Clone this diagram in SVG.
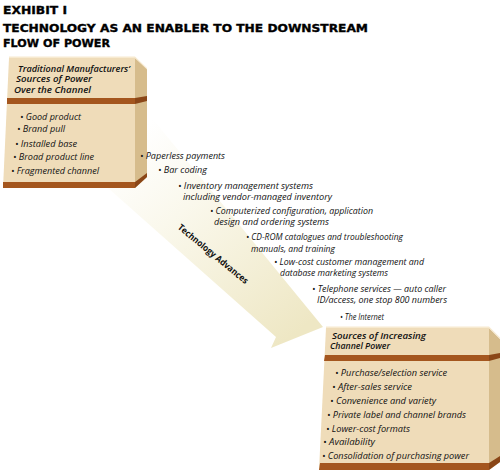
<svg xmlns="http://www.w3.org/2000/svg" width="500" height="476" viewBox="0 0 500 476">
<style>
.title{font-family:"DejaVu Sans","Liberation Sans",sans-serif;font-weight:bold;font-size:11px;fill:#000;stroke:#000;stroke-width:0.35}
.hd{font-family:"Open Sans","Noto Sans",sans-serif;font-style:italic;font-weight:600;font-size:9.6px;fill:#111}
.it{font-family:"Open Sans","Noto Sans",sans-serif;font-style:italic;font-size:9.3px;fill:#111}
.arr{font-family:"Open Sans","Noto Sans",sans-serif;font-weight:bold;font-size:9px;fill:#111}
.front{fill:#efdcb9}
.side{fill:#d6bc8c}
.band{fill:#a4561e}
.bandside{fill:#8a4617}
.hl{fill:#f7ead0}
</style>
<defs>
<linearGradient id="ag" gradientUnits="userSpaceOnUse" x1="140" y1="130" x2="300" y2="330">
<stop offset="0" stop-color="#ffffff"/>
<stop offset="0.35" stop-color="#faf8ec"/>
<stop offset="1" stop-color="#eee7c4"/>
</linearGradient>
</defs>
<rect width="500" height="476" fill="#fff"/>
<g id="title">
<text class="title" x="3" y="13.7" textLength="64" lengthAdjust="spacingAndGlyphs">EXHIBIT I</text>
<text class="title" x="3" y="32.3" textLength="365" lengthAdjust="spacingAndGlyphs">TECHNOLOGY AS AN ENABLER TO THE DOWNSTREAM</text>
<text class="title" x="3" y="47.3" textLength="107" lengthAdjust="spacingAndGlyphs">FLOW OF POWER</text>
</g>
<g id="connectors">
<polygon points="147,112 323,327 271,348 276,337 108,188" fill="url(#ag)"/>
<text class="arr" transform="translate(213,254) rotate(39.5)" y="3" text-anchor="middle" textLength="88" lengthAdjust="spacingAndGlyphs">Technology Advances</text>
</g>
<g id="node-traditional">
<polygon class="front" points="9,58 135,58 135,188 3,188"/>
<polygon class="side" points="135,58 147,69 147,177 135,188"/>
<polygon class="hl" points="9,56.5 135,56.5 147,68 147,69.5 135,58 9,58"/>
<polygon class="band" points="7,98 135,98 135,104 7,104"/>
<polygon class="bandside" points="135,98 147,96 147,101 135,104"/>
<polygon class="band" points="3,182 135,182 135,188 3,188"/>
<polygon class="bandside" points="135,182 147,173 147,177 135,188"/>
<text class="hd" x="18" y="71.5" textLength="112" lengthAdjust="spacingAndGlyphs">Traditional Manufacturers’</text>
<text class="hd" x="16" y="82" textLength="76" lengthAdjust="spacingAndGlyphs">Sources of Power</text>
<text class="hd" x="14" y="92.5" textLength="77" lengthAdjust="spacingAndGlyphs">Over the Channel</text>
<text class="it" x="20" y="120" textLength="61" lengthAdjust="spacingAndGlyphs">• Good product</text>
<text class="it" x="17" y="132.3" textLength="48" lengthAdjust="spacingAndGlyphs">• Brand pull</text>
<text class="it" x="15" y="146.7" textLength="62" lengthAdjust="spacingAndGlyphs">• Installed base</text>
<text class="it" x="13" y="160.3" textLength="81" lengthAdjust="spacingAndGlyphs">• Broad product line</text>
<text class="it" x="11" y="174.3" textLength="88" lengthAdjust="spacingAndGlyphs">• Fragmented channel</text>
</g>
<g id="node-technologies">
<text class="it" x="140" y="158.5" textLength="85" lengthAdjust="spacingAndGlyphs">• Paperless payments</text>
<text class="it" x="158" y="173" textLength="49" lengthAdjust="spacingAndGlyphs">• Bar coding</text>
<text class="it" x="178" y="188.5" textLength="135" lengthAdjust="spacingAndGlyphs">• Inventory management systems</text>
<text class="it" x="183" y="199.5" textLength="149" lengthAdjust="spacingAndGlyphs">including vendor-managed inventory</text>
<text class="it" x="210" y="214" textLength="163" lengthAdjust="spacingAndGlyphs">• Computerized configuration, application</text>
<text class="it" x="214" y="225" textLength="115" lengthAdjust="spacingAndGlyphs">design and ordering systems</text>
<text class="it" x="246" y="240" textLength="157" lengthAdjust="spacingAndGlyphs">• CD-ROM catalogues and troubleshooting</text>
<text class="it" x="251" y="251.5" textLength="84" lengthAdjust="spacingAndGlyphs">manuals, and training</text>
<text class="it" x="274" y="265" textLength="150" lengthAdjust="spacingAndGlyphs">• Low-cost customer management and</text>
<text class="it" x="280" y="276" textLength="108" lengthAdjust="spacingAndGlyphs">database marketing systems</text>
<text class="it" x="312" y="291.5" textLength="134" lengthAdjust="spacingAndGlyphs">• Telephone services — auto caller</text>
<text class="it" x="317" y="302.5" textLength="130" lengthAdjust="spacingAndGlyphs">ID/access, one stop 800 numbers</text>
<text class="it" x="340" y="320" textLength="44" lengthAdjust="spacingAndGlyphs">• The Internet</text>
</g>
<g id="node-channel">
<polygon class="front" points="326,328 489,328 489,470 319,470"/>
<polygon class="side" points="489,328 500,339 500,462 489,470"/>
<polygon class="hl" points="326,326.5 489,326.5 500,337.5 500,339 489,328 326,328"/>
<polygon class="band" points="325,355 489,355 489,361 324,361"/>
<polygon class="bandside" points="489,355 500,353 500,358 489,361"/>
<polygon class="band" points="320,463 489,463 489,470 319,470"/>
<polygon class="bandside" points="489,463 500,456 500,462 489,470"/>
<text class="hd" x="332" y="339.3" textLength="94" lengthAdjust="spacingAndGlyphs">Sources of Increasing</text>
<text class="hd" x="330" y="349" textLength="60" lengthAdjust="spacingAndGlyphs">Channel Power</text>
<text class="it" x="335" y="375.7" textLength="112" lengthAdjust="spacingAndGlyphs">• Purchase/selection service</text>
<text class="it" x="332" y="390" textLength="80" lengthAdjust="spacingAndGlyphs">• After-sales service</text>
<text class="it" x="330" y="404" textLength="106" lengthAdjust="spacingAndGlyphs">• Convenience and variety</text>
<text class="it" x="327" y="417.7" textLength="139" lengthAdjust="spacingAndGlyphs">• Private label and channel brands</text>
<text class="it" x="326" y="431.7" textLength="84" lengthAdjust="spacingAndGlyphs">• Lower-cost formats</text>
<text class="it" x="323" y="445" textLength="52" lengthAdjust="spacingAndGlyphs">• Availability</text>
<text class="it" x="322" y="459" textLength="147" lengthAdjust="spacingAndGlyphs">• Consolidation of purchasing power</text>
</g>
</svg>
